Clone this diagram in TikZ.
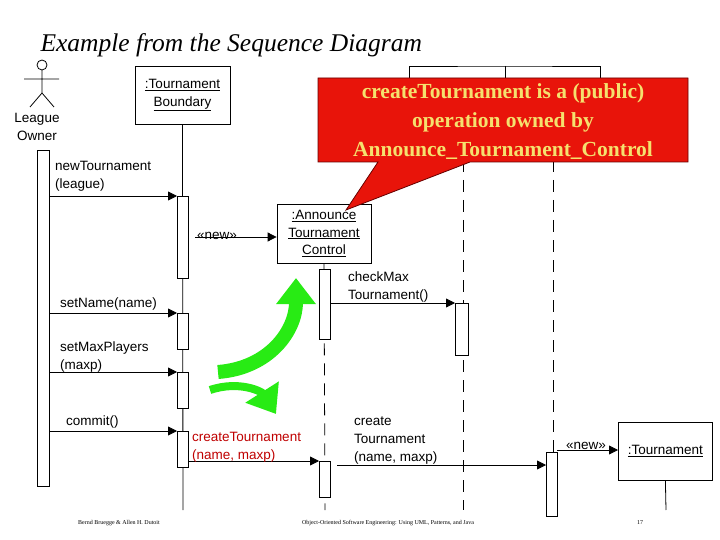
\documentclass[tikz,border=0pt]{standalone}
\usepackage{fontspec}
\setmainfont{Liberation Serif}
\newfontfamily\arial{Liberation Sans}
\usetikzlibrary{arrows.meta}
\definecolor{calloutred}{RGB}{232,20,10}
\definecolor{calloutyel}{RGB}{245,225,110}
\definecolor{arrowgreen}{RGB}{40,235,20}
\tikzset{
    obj/.style={draw, thick, fill=white, inner sep=0pt, align=center, font=\arial\fontsize{13.5}{17.5}\selectfont},
    bar/.style={draw, thick, fill=white},
    lbl/.style={font=\arial\fontsize{13.5}{18}\selectfont, align=left, inner sep=0pt},
    msg/.style={thick, -{Triangle[length=9pt,width=9pt]}},
    life/.style={thick},
    dlife/.style={thick, dash pattern=on 12pt off 8pt},
    grn/.style={arrowgreen, -{Triangle[length=26pt,width=38pt]}},
}
\begin{document}
\begin{tikzpicture}[x=1pt,y=-1pt]
    \useasboundingbox (0,0) rectangle (720,540);

    % Title
    \node[anchor=west, font=\itshape\fontsize{25.5}{28}\selectfont] (title) at (37,45) {Example from the Sequence Diagram};

    % Actor
    \draw[thick] (42,65) circle (5);
    \draw[thick] (42,70) -- (42,93) (24,79) -- (59,79) (30,107) -- (42,93) -- (54,107);
    \node[lbl, align=center] (owner) at (37,127) {League\\Owner};

    % Hidden objects behind the callout
    \draw[thick] (409,90) |- (505,66) -| (600,90);
    \draw[thick] (505,66) -- (505,90);
    \draw[dlife] (463,160) -- (463,510);
    \draw[dlife] (553,160) -- (553,510);

    % Objects
    \node[obj, minimum width=95pt, minimum height=58pt] (bnd) at (182.5,95.5) {\underline{:Tournament}\\\underline{Boundary}};
    \node[obj, minimum width=94pt, minimum height=59pt] (ctl) at (324,233.5) {\underline{:Announce}\\\underline{Tournament}\\\underline{Control}};
    \node[obj, minimum width=94pt, minimum height=58pt, anchor=north west] (tour) at (618,422) {};
    \node[lbl] at (tour.center) {\underline{:Tournament}};

    % Lifelines
    \draw[life] (bnd.south) -- (183,510);
    \draw[dlife] (ctl.south) -- (325,510);
    \draw[life] (tour.south) -- (666,510);

    % Activation bars
    \draw[bar] (37,150) rectangle (49,486);
    \draw[bar] (177,196) rectangle (188,278);
    \draw[bar] (177,313) rectangle (188,349);
    \draw[bar] (177,372) rectangle (188,408);
    \draw[bar] (177,431) rectangle (188,467);
    \draw[bar] (319,269) rectangle (330,339);
    \draw[bar] (455,303) rectangle (468,355);
    \draw[bar] (319,461) rectangle (330,497);
    \draw[bar] (546,452) rectangle (557,516);

    % Messages
    \coordinate (m1a) at (49,196);  \coordinate (m1b) at (177,196);
    \coordinate (m2a) at (195,237); \coordinate (m3a) at (330,303);
    \coordinate (m3b) at (455,303); \coordinate (m4a) at (49,313);
    \coordinate (m4b) at (177,313); \coordinate (m5a) at (49,372);
    \coordinate (m5b) at (177,372); \coordinate (m6a) at (49,431);
    \coordinate (m6b) at (177,431); \coordinate (m7a) at (188,461);
    \coordinate (m7b) at (319,461); \coordinate (m8a) at (337,465);
    \coordinate (m8b) at (546,465); \coordinate (m9a) at (557,450);
    \draw[msg] (m1a) -- (m1b);
    \draw[msg] (m2a) -- (ctl.west |- m2a);
    \draw[msg] (m3a) -- (m3b);
    \draw[msg] (m4a) -- (m4b);
    \draw[msg] (m5a) -- (m5b);
    \draw[msg] (m6a) -- (m6b);
    \draw[msg] (m7a) -- (m7b);
    \draw[msg] (m8a) -- (m8b);
    \draw[msg] (m9a) -- (tour.west |- m9a);

    % Message labels
    \node[lbl, anchor=south west] at (55,192) {newTournament\\(league)};
    \node[lbl, anchor=south west] at (197,240) {«new»};
    \node[lbl, anchor=south west] at (348,302) {checkMax\\Tournament()};
    \node[lbl, anchor=south west] at (60,310) {setName(name)};
    \node[lbl, anchor=south west] at (60,372) {setMaxPlayers\\(maxp)};
    \node[lbl, anchor=south west] at (66,428) {commit()};
    \node[lbl, anchor=south west, text=red!75!black] at (192,462) {createTournament\\(name, maxp)};
    \node[lbl, anchor=south west] at (354,464) {create\\Tournament\\(name, maxp)};
    \node[lbl, anchor=south west] at (566,450) {«new»};

    % Green arrows
    \draw[grn, line width=14pt] (218,372) .. controls (270,368) and (296,330) .. (296,278);
    \draw[grn, line width=8pt] (210,390) .. controls (240,380) and (262,392) .. (276,414);

    % Callout
    \fill[calloutred, draw=red!40!black, thick] (318,78) -- (688,78) -- (688,162) -- (470,162)
        -- (346,210) -- (378,162) -- (318,162) -- cycle;
    \node[font=\bfseries\fontsize{21.5}{29}\selectfont, text=calloutyel, align=center] (note) at (503,122)
        {createTournament is a (public)\\operation owned by\\Announce\_Tournament\_Control};

    % Footer
    \node[font=\fontsize{6}{7}\selectfont] (foot1) at (119,523) {Bernd Bruegge \& Allen H. Dutoit};
    \node[font=\fontsize{6}{7}\selectfont] (foot2) at (388,523) {Object-Oriented Software Engineering: Using UML, Patterns, and Java};
    \node[font=\fontsize{6}{7}\selectfont] (foot3) at (640,523) {17};
\end{tikzpicture}
\end{document}
